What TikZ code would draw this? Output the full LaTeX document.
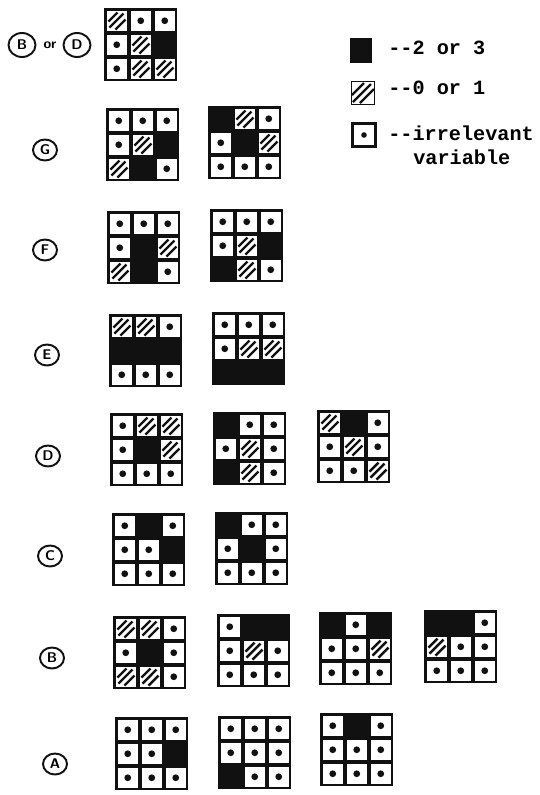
\documentclass[tikz,border=0pt]{standalone}
\usepackage{fontspec}
\usepackage{tikz}
\usetikzlibrary{shapes.geometric}
\newfontfamily\typew{Liberation Mono}[BoldFont={Liberation Mono Bold}]
\definecolor{ink}{HTML}{111111}

% one cell of a map, #1 #2 = upper left corner (px)
\newcommand\cellK[2]{}
\newcommand\cellS[2]{%
  \fill[white] (#1,#2) rectangle ++(20.5,20.5);
  \fill[ink] (#1+10.25,#2+10.25) circle (3.4);}
\newcommand\cellH[2]{%
  \fill[white] (#1,#2) rectangle ++(20.5,20.5);
  \begin{scope}
    \clip (#1,#2) rectangle ++(20.5,20.5);
    \draw[hatch] (#1+2,#2+11) -- (#1+11,#2+2);
    \draw[hatch] (#1+3,#2+17) -- (#1+17,#2+3);
    \draw[hatch] (#1+9,#2+19) -- (#1+19,#2+9);
  \end{scope}}
% 3x3 map at upper left corner #1,#2, cells row by row
\newcommand\kmap[3]{%
  \fill[ink] (#1,#2) rectangle ++(73,73);
  \foreach \c [count=\i from 0] in {#3} {
    \pgfmathsetmacro\cx{#1+2.5+24*mod(\i,3)}
    \pgfmathsetmacro\cy{#2+2.5+24*int(\i/3)}
    \csname cell\c\endcsname{\cx}{\cy}
  }}

\begin{document}
\begin{tikzpicture}[
  x=0.02cm, y=-0.02cm,
  hatch/.style={ink, line width=1.4pt},
  lbl/.style={draw=ink, ellipse, line width=1.1pt, minimum width=0.48cm, minimum height=0.42cm, inner sep=0pt, font=\sffamily\bfseries\fontsize{8}{9}\selectfont},
  legtext/.style={anchor=west, inner sep=0pt, font=\typew\bfseries\fontsize{11.5}{13}\selectfont}
]
\useasboundingbox[fill=white] (0,0) rectangle (540,795);

% ---- Row 0: B or D ----
\node[lbl, minimum width=0.54cm, minimum height=0.48cm] (lb0) at (22,45) {B};
\node[font=\sffamily\bfseries\fontsize{8}{9}\selectfont] (or) at (50,45) {or};
\node[lbl, minimum width=0.54cm, minimum height=0.48cm] (ld0) at (77,45) {D};
\kmap{104}{8}{H,S,S, S,H,K, S,H,H}

% ---- Legend ----
\node[fill=ink, minimum width=0.44cm, minimum height=0.5cm, inner sep=0pt] (keyk) at (361,50) {};
\node[legtext] (txtk) at (388,48) {--2 or 3};
\node[draw=ink, line width=1pt, minimum size=0.46cm, inner sep=0pt] (keyh) at (363,93) {};
\begin{scope}
  \clip (351,82) rectangle (375,104);
  \draw[hatch] (352,95) -- (364,83);
  \draw[hatch] (353,102) -- (371,84);
  \draw[hatch] (360,103) -- (374,89);
\end{scope}
\node[legtext] (txth) at (388,88) {--0 or 1};
\node[draw=ink, line width=1.4pt, minimum size=0.46cm, inner sep=0pt] (keys) at (364,135) {};
\fill[ink] (keys.center) circle (2.8);
\node[legtext] (txts) at (388,133) {--irrelevant};
\node[legtext] (txts2) at (413,157) {variable};

% ---- Row G ----
\node[lbl] (lg) at (45,150) {G};
\kmap{106}{108}{S,S,S, S,H,K, H,K,S}
\kmap{208}{106}{K,H,S, S,K,H, S,S,S}

% ---- Row F ----
\node[lbl] (lf) at (45,250) {F};
\kmap{107}{211}{S,S,S, S,K,H, H,K,S}
\kmap{210}{209}{S,S,S, S,H,K, K,H,S}

% ---- Row E ----
\node[lbl] (le) at (47,355) {E};
\kmap{109}{314}{H,H,S, K,K,K, S,S,S}
\kmap{212}{312}{S,S,S, S,H,H, K,K,K}

% ---- Row D ----
\node[lbl] (ld) at (48,456) {D};
\kmap{110}{413}{S,H,H, S,K,H, S,S,S}
\kmap{213}{412}{K,S,S, S,H,S, K,H,S}
\kmap{317}{410}{H,K,S, S,H,S, S,S,H}

% ---- Row C ----
\node[lbl] (lc) at (50,556) {C};
\kmap{112}{513}{S,K,S, S,S,K, S,S,S}
\kmap{215}{512}{K,S,S, S,K,S, S,S,S}

% ---- Row B ----
\node[lbl] (lb) at (52,658) {B};
\kmap{113}{616}{H,H,S, S,K,S, H,H,S}
\kmap{217}{614}{S,K,K, S,H,S, S,S,S}
\kmap{319}{612}{K,S,K, S,S,H, S,S,S}
\kmap{424}{610}{K,K,S, H,S,S, S,S,S}

% ---- Row A ----
\node[lbl] (la) at (55,764) {A};
\kmap{115}{717}{S,S,S, S,S,K, S,S,S}
\kmap{218}{716}{S,S,S, S,S,S, K,S,S}
\kmap{320}{713}{S,K,S, S,S,S, S,S,S}

\end{tikzpicture}
\end{document}
